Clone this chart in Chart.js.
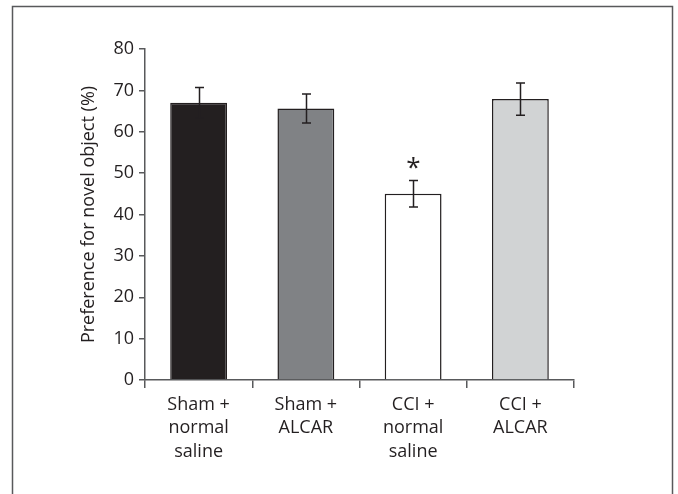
<!DOCTYPE html>
<html>
<head>
<meta charset="utf-8">
<script src="https://cdn.jsdelivr.net/npm/chart.js@4.4.0/dist/chart.umd.min.js"></script>
<style>
  html, body { margin: 0; padding: 0; background: #fff; }
  #wrap { width: 678px; height: 494px; }
</style>
</head>
<body>
<div id="wrap"><canvas id="chart" width="678" height="494"></canvas></div>
<script>
// 데이터
const groups = [['Sham +', 'normal', 'saline'], ['Sham +', 'ALCAR'], ['CCI +', 'normal', 'saline'], ['CCI +', 'ALCAR']];
const preference = [67.0, 65.6, 45.0, 67.9];
const sem = [3.7, 3.5, 3.2, 3.9];
const marks = ['', '', '*', ''];
const yTicks = [0, 10, 20, 30, 40, 50, 60, 70, 80];

const ink = '#231f20';
const axisColor = '#58595b';

Chart.defaults.font.family = "'Open Sans', sans-serif";
Chart.defaults.font.size = 18;
Chart.defaults.color = ink;

// 바깥 테두리
const framePlugin = {
    id: 'frame',
    beforeDraw(chart) {
        const ctx = chart.ctx;
        ctx.save();
        ctx.strokeStyle = axisColor;
        ctx.lineWidth = 1.5;
        ctx.strokeRect(12.5, 6.5, 660, 520);
        ctx.restore();
    }
};

// 오차 막대 + 유의성 표시
const errorBarPlugin = {
    id: 'errorBars',
    afterDatasetsDraw(chart) {
        const ctx = chart.ctx;
        const y = chart.scales.y;
        const bars = chart.getDatasetMeta(0).data;
        ctx.save();
        ctx.strokeStyle = ink;
        ctx.lineWidth = 1.5;
        bars.forEach((bar, i) => {
            const top = y.getPixelForValue(preference[i] + sem[i]);
            const bottom = y.getPixelForValue(preference[i] - sem[i]);
            const x = Math.round(bar.x) + 0.5;
            ctx.beginPath();
            ctx.moveTo(x, top);
            ctx.lineTo(x, bottom);
            ctx.moveTo(x - 4.5, top);
            ctx.lineTo(x + 4.5, top);
            ctx.moveTo(x - 4.5, bottom);
            ctx.lineTo(x + 4.5, bottom);
            ctx.stroke();
            if (marks[i]) {
                ctx.fillStyle = ink;
                ctx.font = "26px 'Open Sans'";
                ctx.textAlign = 'center';
                ctx.textBaseline = 'middle';
                ctx.fillText(marks[i], x, top - 12);
            }
        });
        ctx.restore();
    }
};

new Chart(document.getElementById('chart'), {
    type: 'bar',
    data: {
        labels: groups,
        datasets: [{
            data: preference,
            backgroundColor: ['#231f20', '#808285', '#ffffff', '#d1d3d4'],
            borderColor: ink,
            borderWidth: 1.5,
            barPercentage: 0.53,
            categoryPercentage: 1.0
        }]
    },
    options: {
        responsive: false,
        animation: false,
        layout: { padding: { left: 79, top: 49, right: 104, bottom: 0 } },
        plugins: {
            legend: { display: false },
            tooltip: { enabled: false }
        },
        scales: {
            x: {
                afterFit(scale) { scale.height = 114; },
                grid: {
                    offset: true,
                    drawOnChartArea: false,
                    drawTicks: true,
                    tickLength: 8,
                    color: axisColor,
                    lineWidth: 1.5
                },
                border: { color: axisColor, width: 1.5 },
                ticks: { padding: 5, color: ink, font: { size: 18, lineHeight: 1.3 } }
            },
            y: {
                min: 0,
                max: 80,
                afterFit(scale) { scale.width = 66; },
                afterBuildTicks(scale) { scale.ticks = yTicks.map(v => ({ value: v })); },
                grid: {
                    drawOnChartArea: false,
                    drawTicks: true,
                    tickLength: 6,
                    color: axisColor,
                    lineWidth: 1.5
                },
                border: { color: axisColor, width: 1.5 },
                ticks: { padding: 5, color: ink, font: { size: 18 } },
                title: {
                    display: true,
                    text: 'Preference for novel object (%)',
                    color: ink,
                    padding: 0,
                    font: { size: 18, lineHeight: 1.1 }
                }
            }
        }
    },
    plugins: [framePlugin, errorBarPlugin]
});
</script>
</body>
</html>
